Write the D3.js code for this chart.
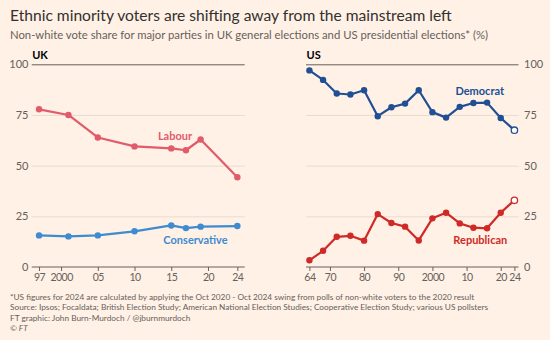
<!DOCTYPE html>
<html><head><meta charset="utf-8">
<script src="https://cdn.jsdelivr.net/npm/d3@7"></script>
<style>
html,body{margin:0;padding:0;background:#fff1e5;}
svg{display:block;font-family:Lato, "Open Sans", sans-serif;}
</style></head>
<body><svg id="c" width="550" height="340"></svg>
<script>
// ---- data ----
const ukYears = [1997, 2001, 2005, 2010, 2015, 2017, 2019, 2024];
const ukLabour = [77.8, 75.0, 63.9, 59.5, 58.5, 57.6, 62.9, 44.3];
const ukConservative = [15.6, 15.1, 15.6, 17.6, 20.5, 19.2, 19.9, 20.2];
const usYears = [1964, 1968, 1972, 1976, 1980, 1984, 1988, 1992, 1996, 2000, 2004, 2008, 2012, 2016, 2020, 2024];
const usDemocrat = [97.0, 92.3, 85.6, 85.1, 87.2, 74.4, 78.8, 80.6, 87.2, 76.4, 73.7, 79.0, 80.9, 81.1, 73.5, 67.5];
const usRepublican = [3.3, 8.0, 14.9, 15.4, 13.0, 26.1, 21.7, 19.9, 13.1, 24.0, 26.8, 21.5, 19.4, 19.1, 26.8, 32.9];
const yTicks = [0, 25, 50, 75, 100];
const ukTickYears = [1997, 2000, 2005, 2010, 2015, 2020, 2024];
const ukTickLabels = ["97", "2000", "05", "10", "15", "20", "24"];
const usTickYears = [1964, 1970, 1980, 1990, 2000, 2010, 2020, 2024];
const usTickLabels = ["64", "70", "80", "90", "2000", "10", "20", "24"];

const title = "Ethnic minority voters are shifting away from the mainstream left";
const subtitle = "Non-white vote share for major parties in UK general elections and US presidential elections* (%)";
const notes = [
  "*US figures for 2024 are calculated by applying the Oct 2020 - Oct 2024 swing from polls of non-white voters to the 2020 result",
  "Source: Ipsos; Focaldata; British Election Study; American National Election Studies; Cooperative Election Study; various US pollsters",
  "FT graphic: John Burn-Murdoch / @jburnmurdoch",
  "\u00A9 FT"
];

const C = {bg:"#fff1e5", text:"#33302e", muted:"#66605c", grid:"#e9dccf", axis:"#66605c",
  labour:"#e15b6b", con:"#3e8bd0", dem:"#204f94", rep:"#cf2a27"};

const svg = d3.select("#c");
svg.append("rect").attr("width",550).attr("height",340).attr("fill",C.bg);

svg.append("text").attr("x",10).attr("y",21).attr("font-size",15.6).attr("fill",C.text).text(title);
svg.append("text").attr("x",10).attr("y",38.5).attr("font-size",11.3).attr("fill",C.muted).text(subtitle);
notes.forEach((n,i)=>{
  svg.append("text").attr("x",10).attr("y",300+i*10.3).attr("font-size",8.25).attr("fill",C.muted)
    .attr("font-style", i===3 ? "italic" : null).text(n);
});

const y = d3.scaleLinear().domain([0,100]).range([267,64.3]);

function panel(opts){
  const x = d3.scaleLinear().domain(opts.xdom).range(opts.xr);
  const g = svg.append("g");
  const grid = g.append("g").attr("transform",`translate(${opts.xr[0]},0)`)
    .call(d3.axisRight(y).tickValues(yTicks).tickSize(opts.xr[1]-opts.xr[0]).tickFormat(""));
  grid.select(".domain").remove();
  grid.selectAll(".tick line").attr("stroke",d=> d===100 ? C.axis : C.grid).attr("stroke-width",1);
  grid.selectAll(".tick").filter(d=>d===0).remove();
  const ya = g.append("g").attr("transform",`translate(${opts.ylx},0)`)
    .call((opts.left ? d3.axisLeft(y) : d3.axisRight(y)).tickValues(yTicks).tickSize(0).tickPadding(0));
  ya.select(".domain").remove();
  ya.selectAll("text").attr("font-size",11).attr("fill",C.muted).attr("font-family","Lato, sans-serif");
  const xa = g.append("g").attr("transform",`translate(0,${y(0)})`)
    .call(d3.axisBottom(x).tickValues(opts.ticks).tickFormat((d,i)=>opts.tickLabels[i]).tickSize(4).tickSizeOuter(0).tickPadding(3));
  xa.select(".domain").attr("stroke",C.axis).attr("d",`M${opts.xr[0]},0H${opts.xr[1]}`);
  xa.selectAll(".tick line").attr("stroke",C.axis);
  xa.selectAll("text").attr("font-size",10.5).attr("letter-spacing","-0.5").attr("fill",C.muted).attr("font-family","Lato, sans-serif");
  g.append("text").attr("x",opts.xr[0]+0.5).attr("y",59).attr("font-size",11).attr("font-weight","bold").attr("fill","#000").text(opts.name);
  opts.series.forEach(s=>{
    const pts = opts.years.map((yr,i)=>[yr,s.values[i]]);
    g.append("path").datum(pts).attr("fill","none").attr("stroke",s.color).attr("stroke-width",2.2)
      .attr("stroke-linejoin","round")
      .attr("d",d3.line().x(d=>x(d[0])).y(d=>y(d[1])));
    g.selectAll(null).data(pts).enter().append("circle")
      .attr("cx",d=>x(d[0])).attr("cy",d=>y(d[1])).attr("r",3.2)
      .attr("fill",(d,i)=> (opts.hollowLast && i===pts.length-1) ? "#fff" : s.color)
      .attr("stroke",s.color).attr("stroke-width",(d,i)=> (opts.hollowLast && i===pts.length-1) ? 1.3 : 0);
    g.append("text").attr("x",s.lx).attr("y",s.ly).attr("font-size",11).attr("font-weight","bold")
      .attr("fill",s.color).attr("text-anchor","middle").text(s.name);
  });
}

panel({name:"UK", xdom:[1996,2025], xr:[31.7,244.7], ylx:28.5, left:true,
  ticks:ukTickYears, tickLabels:ukTickLabels, years:ukYears, hollowLast:false,
  series:[
    {name:"Labour", values:ukLabour, color:C.labour, lx:175, ly:140},
    {name:"Conservative", values:ukConservative, color:C.con, lx:195.5, ly:244}
  ]});
panel({name:"US", xdom:[1963,2025.2], xr:[306,518.5], ylx:524, left:false,
  ticks:usTickYears, tickLabels:usTickLabels, years:usYears, hollowLast:true,
  series:[
    {name:"Democrat", values:usDemocrat, color:C.dem, lx:479.7, ly:95},
    {name:"Republican", values:usRepublican, color:C.rep, lx:480.3, ly:244}
  ]});
</script></body></html>
